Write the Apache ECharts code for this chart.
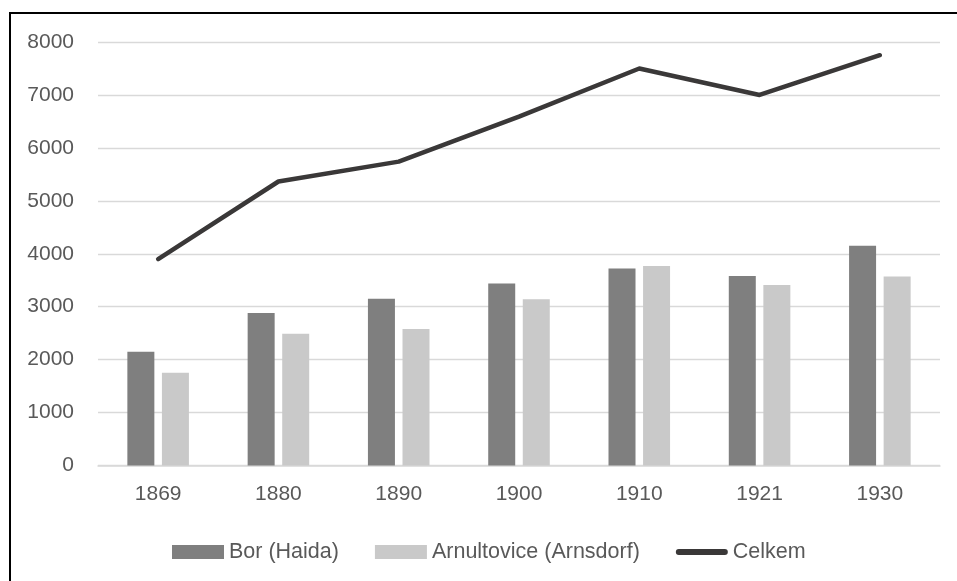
<!DOCTYPE html>
<html>
<head>
<meta charset="utf-8">
<script src="https://cdn.jsdelivr.net/npm/echarts@6/dist/echarts.min.js"></script>
<style>
html,body{margin:0;padding:0;background:#fff;}
#chart{width:957px;height:581px;}
</style>
</head>
<body>
<div id="chart"></div>
<script>
const categories = ['1869', '1880', '1890', '1900', '1910', '1921', '1930'];
const borHaida = [2150, 2880, 3150, 3440, 3720, 3580, 4150];
const arnultovice = [1750, 2490, 2580, 3140, 3770, 3410, 3570];
const celkem = [3900, 5365, 5740, 6590, 7500, 7000, 7750];
const seriesNames = ['Bor (Haida)', 'Arnultovice (Arnsdorf)', 'Celkem'];

const chart = echarts.init(document.getElementById('chart'), null, {renderer: 'canvas'});
const axisFont = {color: '#595959', fontFamily: 'Liberation Sans', fontSize: 21};
chart.setOption({
  animation: false,
  backgroundColor: '#ffffff',
  grid: {left: 98, right: 17, top: 42, bottom: 115.5, containLabel: false},
  graphic: [{
    type: 'rect', z: 100, silent: true,
    shape: {x: 10, y: 13, width: 1200, height: 1200},
    style: {fill: 'none', stroke: '#000000', lineWidth: 2}
  }],
  legend: {
    left: 167, top: 536,
    itemWidth: 52, itemHeight: 14, itemGap: 36,
    symbolKeepAspect: true,
    textStyle: {color: '#595959', fontFamily: 'Liberation Sans', fontSize: 21.5},
    data: [
      {name: seriesNames[0], icon: 'rect'},
      {name: seriesNames[1], icon: 'rect'},
      {name: seriesNames[2], icon: 'path://M3,0L49,0A3,3,0,0,1,49,6L3,6A3,3,0,0,1,3,0Z'}
    ]
  },
  xAxis: {
    type: 'category', data: categories,
    axisLine: {lineStyle: {color: '#d9d9d9', width: 1.5}},
    axisTick: {show: false},
    axisLabel: Object.assign({margin: 18}, axisFont)
  },
  yAxis: {
    type: 'value', min: 0, max: 8000, interval: 1000,
    axisLine: {show: false}, axisTick: {show: false},
    axisLabel: Object.assign({margin: 24, formatter: function (v) { return String(v); }}, axisFont),
    splitLine: {lineStyle: {color: '#d9d9d9', width: 1.3}}
  },
  series: [
    {name: seriesNames[0], type: 'bar', data: borHaida, barWidth: 27, barGap: '28%',
     itemStyle: {color: '#7f7f7f'}},
    {name: seriesNames[1], type: 'bar', data: arnultovice, barWidth: 27,
     itemStyle: {color: '#c9c9c9'}},
    {name: seriesNames[2], type: 'line', data: celkem, symbol: 'none', showSymbol: false,
     lineStyle: {color: '#3a3838', width: 4.5, cap: 'round', join: 'round'},
     itemStyle: {color: '#3a3838'}, z: 5}
  ]
});
</script>
</body>
</html>
